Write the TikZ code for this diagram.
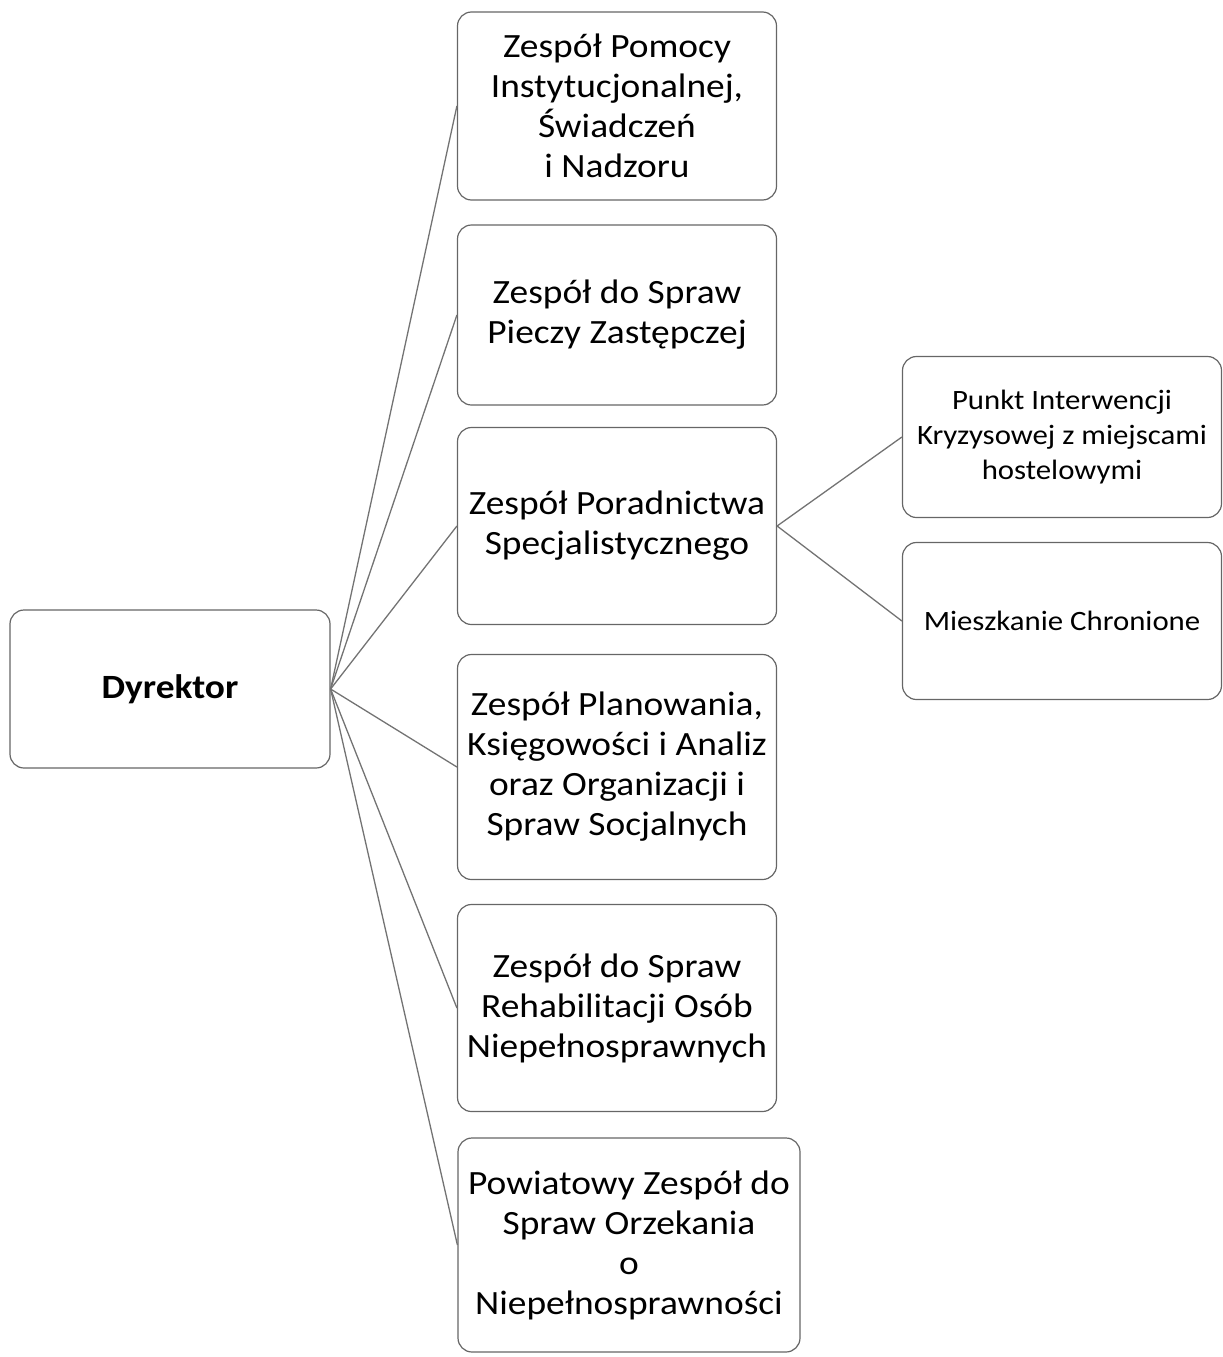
\documentclass[tikz,border=0pt]{standalone}
\usepackage{fontspec}
\setmainfont[FakeStretch=1.1]{Carlito}
\tikzset{
  unit/.style={draw=black!60, line width=1.2pt, rounded corners=14pt, align=center, inner sep=0pt,
    font=\fontsize{34}{40}\selectfont},
  subunit/.style={unit, font=\fontsize{28}{35}\selectfont},
  link/.style={draw=black!55, line width=1.3pt}
}
\begin{document}
\begin{tikzpicture}[x=1pt,y=-1pt]
\useasboundingbox (0,0) rectangle (1223,1357);
\node[unit, minimum width=320pt, minimum height=158pt, font=\fontsize{34}{40}\selectfont\bfseries] (dyr) at (170,689) {Dyrektor};
\node[unit, minimum width=319pt, minimum height=188pt] (z1) at (617,106) {Zespół Pomocy\\Instytucjonalnej,\\Świadczeń\\i Nadzoru};
\node[unit, minimum width=319pt, minimum height=180pt] (z2) at (617,315) {Zespół do Spraw\\Pieczy Zastępczej};
\node[unit, minimum width=319pt, minimum height=197pt] (z3) at (617,526) {Zespół Poradnictwa\\Specjalistycznego};
\node[unit, minimum width=319pt, minimum height=225pt] (z4) at (617,767) {Zespół Planowania,\\Księgowości i Analiz\\oraz Organizacji i\\Spraw Socjalnych};
\node[unit, minimum width=319pt, minimum height=207pt] (z5) at (617,1008) {Zespół do Spraw\\Rehabilitacji Osób\\Niepełnosprawnych};
\node[unit, minimum width=342pt, minimum height=214pt] (z6) at (629,1245) {Powiatowy Zespół do\\Spraw Orzekania\\o\\Niepełnosprawności};
\node[subunit, minimum width=319pt, minimum height=161pt] (pik) at (1062,437) {Punkt Interwencji\\Kryzysowej z miejscami\\hostelowymi};
\node[subunit, minimum width=319pt, minimum height=157pt] (mch) at (1062,621) {Mieszkanie Chronione};
\draw[link] (dyr.east) -- (z1.west);
\draw[link] (dyr.east) -- (z2.west);
\draw[link] (dyr.east) -- (z3.west);
\draw[link] (dyr.east) -- (z4.west);
\draw[link] (dyr.east) -- (z5.west);
\draw[link] (dyr.east) -- (z6.west);
\draw[link] (z3.east) -- (pik.west);
\draw[link] (z3.east) -- (mch.west);
\end{tikzpicture}
\end{document}
